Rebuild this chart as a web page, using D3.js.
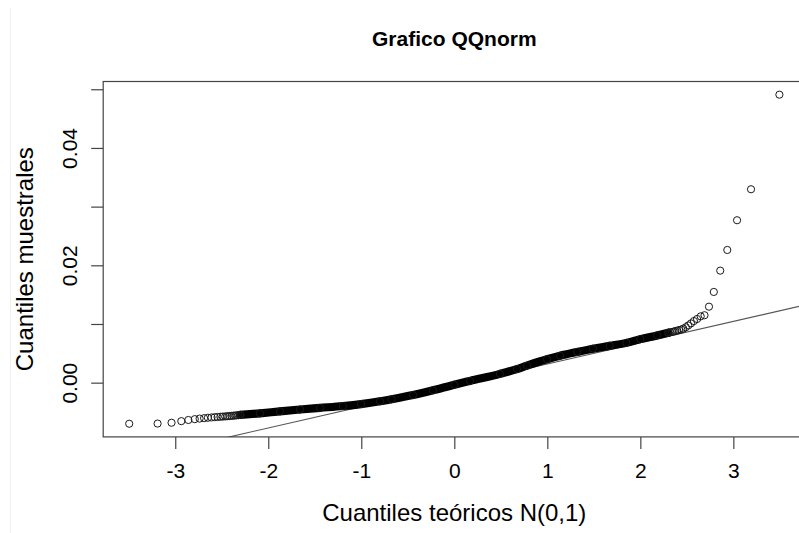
<!DOCTYPE html>
<html><head><meta charset="utf-8">
<script src="https://cdn.jsdelivr.net/npm/d3@7"></script>
<style>
body{margin:0;background:#fff}
svg{display:block}
text{font-family:"Liberation Sans",Arial,Helvetica,sans-serif;fill:#000}
</style>
</head><body>
<svg id="chart" width="799" height="533"></svg>
<script>
// ---- data ----
const titleText = "Grafico QQnorm";
const xLabelText = "Cuantiles teóricos N(0,1)";
const yLabelText = "Cuantiles muestrales";
const xTickValues = [-3, -2, -1, 0, 1, 2, 3];
const xTickLabels = ["-3", "-2", "-1", "0", "1", "2", "3"];
const yTickValues = [0, 0.01, 0.02, 0.03, 0.04, 0.05];
const yTickLabels = ["0.00", "", "0.02", "", "0.04", ""];

// lower tail: individually visible points (theoretical, sample)
const lowTailTheo   = [-3.495, -3.19, -3.04, -2.935, -2.859, -2.79, -2.738, -2.69, -2.649, -2.61, -2.576, -2.545, -2.515, -2.489, -2.462, -2.44, -2.417, -2.397, -2.377, -2.358, -2.34, -2.32, -2.30];
const lowTailSample = [-0.00700, -0.00697, -0.00683, -0.00656, -0.00636, -0.00622, -0.00612, -0.00605, -0.00598, -0.00593, -0.00588, -0.00585, -0.00581, -0.00578, -0.00575, -0.00572, -0.00569, -0.00566, -0.00563, -0.00560, -0.00557, -0.00554, -0.00550];

// dense central band of overlapping points (theoretical, sample)
const bandTheo   = [-2.30, -2.09, -1.874, -1.659, -1.444, -1.197, -1.003, -0.799, -0.674, -0.444, -0.229, 0.0, 0.169, 0.491, 0.674, 0.782, 0.997, 1.137, 1.32, 1.49, 1.67, 1.85, 2.0, 2.18, 2.30];
const bandSample = [-0.00550, -0.00523, -0.00489, -0.00458, -0.00430, -0.00398, -0.00365, -0.00318, -0.00283, -0.00212, -0.00130, -0.00035, 0.00030, 0.00150, 0.00232, 0.00290, 0.00398, 0.00458, 0.00522, 0.00578, 0.00627, 0.00678, 0.00742, 0.00805, 0.00850];

// upper tail: individually visible points (theoretical, sample)
const highTailTheo   = [2.30, 2.32, 2.34, 2.358, 2.377, 2.397, 2.417, 2.44, 2.462, 2.489, 2.515, 2.545, 2.576, 2.61, 2.649, 2.69, 2.738, 2.79, 2.859, 2.935, 3.04, 3.19, 3.495];
const highTailSample = [0.00850, 0.00857, 0.00864, 0.00871, 0.00879, 0.00887, 0.00896, 0.00906, 0.00920, 0.00945, 0.00975, 0.01010, 0.01050, 0.01085, 0.01130, 0.01149, 0.01295, 0.01546, 0.01909, 0.02261, 0.02768, 0.03296, 0.04908];

// reference line (qqline) through the quartiles
const lineTheo   = [-0.6745, 0.6745];
const lineSample = [-0.00291, 0.00199];

// ---- drawing ----
const svg = d3.select("#chart");
const W = 799, H = 533;
svg.append("rect").attr("width", W).attr("height", H).attr("fill", "#fff");

const allTheo = lowTailTheo.concat(bandTheo, highTailTheo);
const allSample = lowTailSample.concat(bandSample, highTailSample);
const [tx0, tx1] = d3.extent(allTheo);
const [sy0, sy1] = d3.extent(allSample);
const px = 0.04 * (tx1 - tx0), py = 0.04 * (sy1 - sy0);

const plot = {left: 103.2, right: 805.4, top: 81.5, bottom: 436.9};
const x = d3.scaleLinear().domain([tx0 - px, tx1 + px]).range([plot.left, plot.right]);
const y = d3.scaleLinear().domain([sy0 - py, sy1 + py]).range([plot.bottom, plot.top]);

svg.append("defs").append("clipPath").attr("id", "clip")
  .append("rect").attr("x", plot.left).attr("y", plot.top)
  .attr("width", plot.right - plot.left).attr("height", plot.bottom - plot.top);

// faint screenshot edge line
svg.append("line").attr("x1", 10.5).attr("x2", 10.5).attr("y1", 8).attr("y2", H)
  .attr("stroke", "#efefef").attr("stroke-width", 1);

const g = svg.append("g").attr("clip-path", "url(#clip)");

// qqline
const slope = (lineSample[1] - lineSample[0]) / (lineTheo[1] - lineTheo[0]);
const icpt = lineSample[0] - slope * lineTheo[0];
const xd = x.domain();
g.append("line")
  .attr("x1", x(xd[0])).attr("y1", y(icpt + slope * xd[0]))
  .attr("x2", x(xd[1])).attr("y2", y(icpt + slope * xd[1]))
  .attr("stroke", "#555").attr("stroke-width", 1.1);

// dense band of points
const bandPts = bandTheo.map((t, i) => [t, bandSample[i]]);
g.append("path")
  .attr("d", d3.line().x(d => x(d[0])).y(d => y(d[1])).curve(d3.curveMonotoneX)(bandPts))
  .attr("fill", "none").attr("stroke", "#000").attr("stroke-width", 8.2)
  .attr("stroke-linecap", "round").attr("stroke-linejoin", "round");

const pts = allTheo.map((t, i) => [t, allSample[i]]);
g.selectAll("circle.pt").data(pts).join("circle").attr("class", "pt")
  .attr("cx", d => x(d[0])).attr("cy", d => y(d[1])).attr("r", 3.6)
  .attr("fill", "none").attr("stroke", "#1a1a1a").attr("stroke-width", 1);

// box
svg.append("rect").attr("x", plot.left).attr("y", plot.top)
  .attr("width", plot.right - plot.left).attr("height", plot.bottom - plot.top)
  .attr("fill", "none").attr("stroke", "#444").attr("stroke-width", 1.2);

// x axis
const xAxis = svg.append("g").attr("transform", `translate(0,${plot.bottom})`)
  .call(d3.axisBottom(x).tickValues(xTickValues).tickSize(12).tickPadding(14)
    .tickFormat((d, i) => xTickLabels[i]));
xAxis.select(".domain").remove();
xAxis.selectAll("line").attr("stroke", "#444").attr("stroke-width", 1.2);
xAxis.selectAll("text").attr("font-size", 21).attr("font-family", "Liberation Sans, Arial, sans-serif").attr("fill", "#000");

// y axis
const yAxis = svg.append("g").attr("transform", `translate(${plot.left},0)`)
  .call(d3.axisLeft(y).tickValues(yTickValues).tickSize(12).tickFormat((d, i) => yTickLabels[i]));
yAxis.select(".domain").remove();
yAxis.selectAll("line").attr("stroke", "#444").attr("stroke-width", 1.2);
yAxis.selectAll(".tick text")
  .attr("font-size", 21).attr("font-family", "Liberation Sans, Arial, sans-serif").attr("fill", "#000")
  .attr("x", 0).attr("dy", 0)
  .attr("text-anchor", "middle")
  .attr("transform", "translate(-26,0) rotate(-90)");

// titles
svg.append("text").attr("x", (plot.left + plot.right) / 2).attr("y", 46)
  .attr("text-anchor", "middle").attr("font-weight", "bold").attr("font-size", 21)
  .text(titleText);
svg.append("text").attr("x", (plot.left + plot.right) / 2).attr("y", 521)
  .attr("text-anchor", "middle").attr("font-size", 24).text(xLabelText);
svg.append("text").attr("transform", `translate(33,${(plot.top + plot.bottom) / 2}) rotate(-90)`)
  .attr("text-anchor", "middle").attr("font-size", 24).text(yLabelText);
</script>
</body></html>
